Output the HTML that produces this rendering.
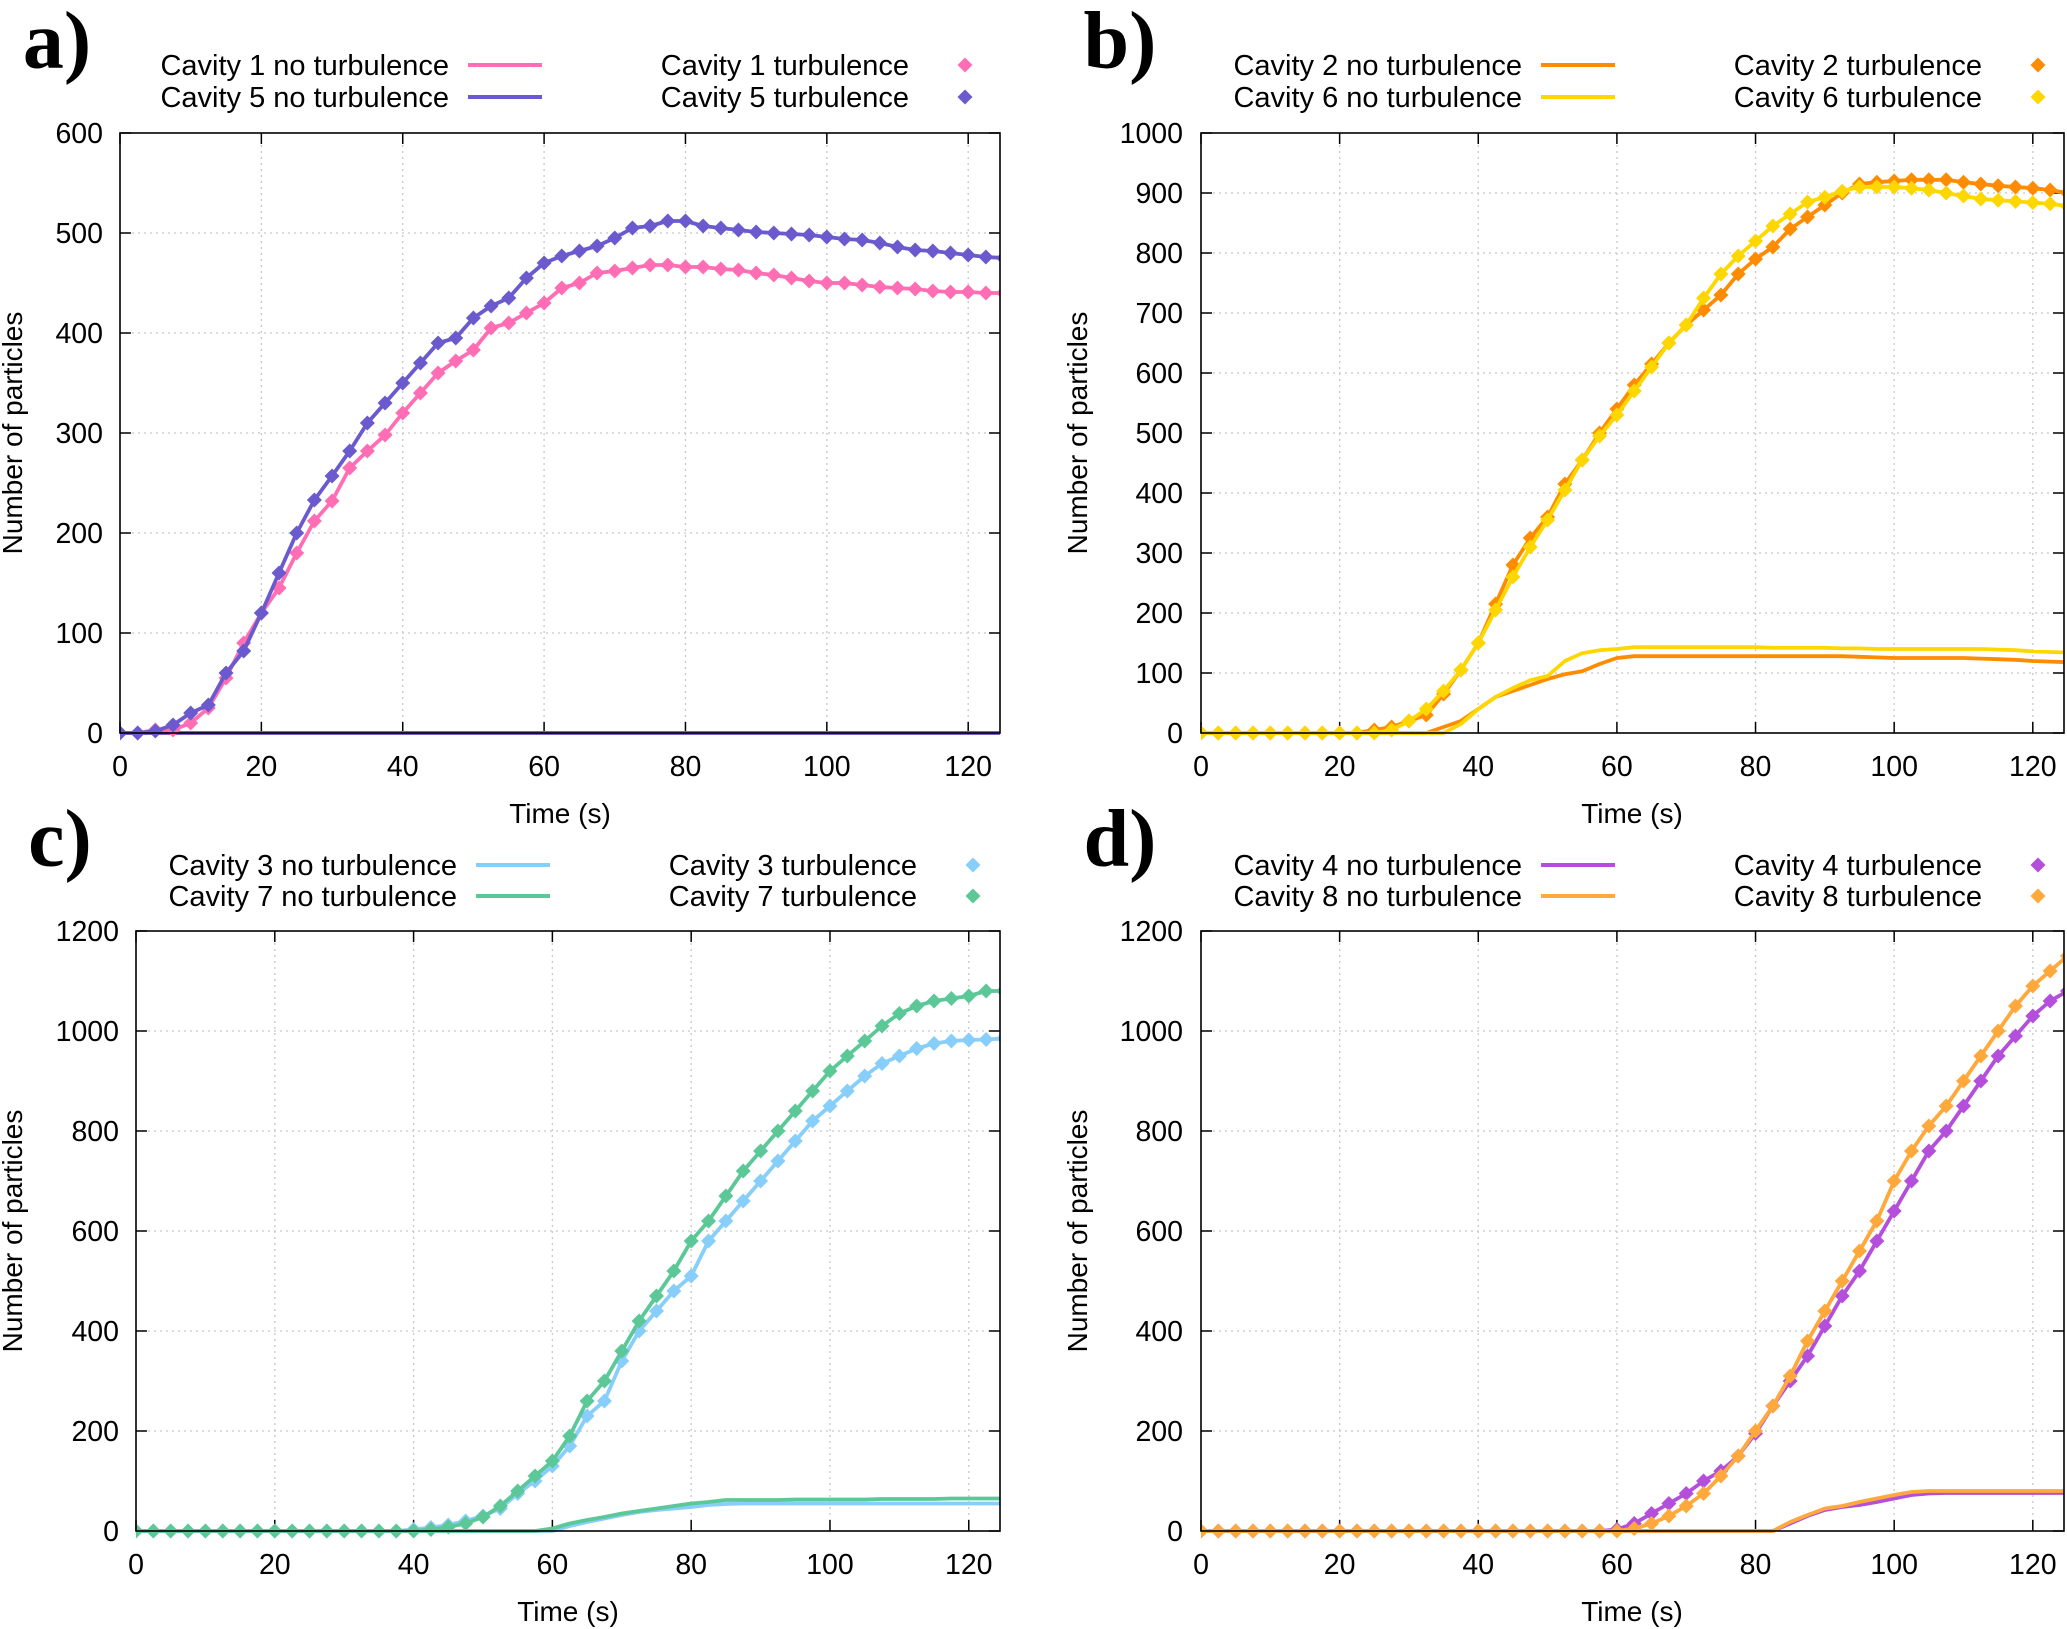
<!DOCTYPE html>
<html><head><meta charset="utf-8">
<style>
html,body{margin:0;padding:0;background:#fff;}
svg{display:block;}
text{font-family:"Liberation Sans",sans-serif;fill:#000;}
.lbl{font-family:"Liberation Serif",serif;font-weight:bold;}
</style></head>
<body>
<svg id="fig" width="2067" height="1629" viewBox="0 0 2067 1629" xmlns="http://www.w3.org/2000/svg"></svg>
<script>
// shared time axis (s), sample every 2.5 s
const times = [0,2.5,5,7.5,10,12.5,15,17.5,20,22.5,25,27.5,30,32.5,35,37.5,40,42.5,45,47.5,50,52.5,55,57.5,60,62.5,65,67.5,70,72.5,75,77.5,80,82.5,85,87.5,90,92.5,95,97.5,100,102.5,105,107.5,110,112.5,115,117.5,120,122.5,125];
const xTicks = [0,20,40,60,80,100,120];

// panel a
const aTicksY = [0,100,200,300,400,500,600];
const cav1Turb = [0,0,3,3,10,25,55,90,120,145,180,212,232,265,282,298,320,340,360,372,383,405,410,420,430,445,450,460,462,465,468,468,466,466,464,463,460,458,455,452,450,450,448,446,445,444,442,441,441,440,440];
const cav5Turb = [0,0,2,8,20,28,60,82,120,160,200,233,257,282,310,330,350,370,390,395,415,427,435,455,470,477,482,487,495,505,507,512,512,507,505,503,501,500,499,498,496,494,493,490,486,483,482,480,478,476,475];
const cav1NoTurb = [0,0,0,0,0,0,0,0,0,0,0,0,0,0,0,0,0,0,0,0,0,0,0,0,0,0,0,0,0,0,0,0,0,0,0,0,0,0,0,0,0,0,0,0,0,0,0,0,0,0,0];
const cav5NoTurb = [0,0,0,0,0,0,0,0,0,0,0,0,0,0,0,0,0,0,0,0,0,0,0,0,0,0,0,0,0,0,0,0,0,0,0,0,0,0,0,0,0,0,0,0,0,0,0,0,0,0,0];

// panel b
const bTicksY = [0,100,200,300,400,500,600,700,800,900,1000];
const cav2Turb = [0,0,0,0,0,0,0,0,0,0,5,10,20,30,65,105,150,215,280,325,360,415,455,500,540,580,615,650,680,705,730,765,790,810,840,860,880,900,915,918,920,922,922,922,918,915,912,910,908,905,900];
const cav6Turb = [0,0,0,0,0,0,0,0,0,0,0,5,20,40,70,105,150,205,260,310,355,405,455,495,530,570,610,650,680,725,765,795,820,845,865,885,893,903,910,910,910,908,905,900,895,890,888,886,884,882,878];
const cav2NoTurb = [0,0,0,0,0,0,0,0,0,0,0,0,0,0,10,20,40,60,70,80,90,98,103,115,125,128,128,128,128,128,128,128,128,128,128,128,128,128,127,126,125,125,125,125,125,124,123,122,120,119,118];
const cav6NoTurb = [0,0,0,0,0,0,0,0,0,0,0,0,0,0,0,15,40,60,75,88,95,120,133,138,140,143,143,143,143,143,143,143,143,142,142,142,142,141,141,140,140,140,140,140,140,140,139,138,136,135,134];

// panel c
const cTicksY = [0,200,400,600,800,1000,1200];
const cav3Turb = [0,0,0,0,0,0,0,0,0,0,0,0,0,0,0,0,3,7,12,20,30,45,75,100,130,170,230,260,340,400,440,480,510,580,620,660,700,740,780,820,850,880,910,935,950,965,975,980,982,983,985];
const cav7Turb = [0,0,0,0,0,0,0,0,0,0,0,0,0,0,0,0,0,3,8,15,28,50,80,110,140,190,260,300,360,420,470,520,580,620,670,720,760,800,840,880,920,950,980,1010,1035,1050,1060,1065,1070,1080,1080];
const cav3NoTurb = [0,0,0,0,0,0,0,0,0,0,0,0,0,0,0,0,0,0,0,0,0,0,0,0,0,10,18,25,32,38,42,45,48,52,54,55,55,55,55,55,55,55,55,55,55,55,55,55,55,55,55];
const cav7NoTurb = [0,0,0,0,0,0,0,0,0,0,0,0,0,0,0,0,0,0,0,0,0,0,0,0,5,15,22,28,35,40,45,50,55,58,62,62,62,62,63,63,63,63,63,64,64,64,64,65,65,65,65];

// panel d
const dTicksY = [0,200,400,600,800,1000,1200];
const cav4Turb = [0,0,0,0,0,0,0,0,0,0,0,0,0,0,0,0,0,0,0,0,0,0,0,0,3,15,35,55,75,100,120,150,195,250,300,350,410,470,520,580,640,700,760,800,850,900,950,990,1030,1060,1080];
const cav8Turb = [0,0,0,0,0,0,0,0,0,0,0,0,0,0,0,0,0,0,0,0,0,0,0,0,0,5,15,30,50,75,110,150,200,250,310,380,440,500,560,620,700,760,810,850,900,950,1000,1050,1090,1120,1150];
const cav4NoTurb = [0,0,0,0,0,0,0,0,0,0,0,0,0,0,0,0,0,0,0,0,0,0,0,0,0,0,0,0,0,0,0,0,0,0,15,30,42,48,52,58,65,72,75,76,76,76,76,76,76,76,76];
const cav8NoTurb = [0,0,0,0,0,0,0,0,0,0,0,0,0,0,0,0,0,0,0,0,0,0,0,0,0,0,0,0,0,0,0,0,0,0,18,32,45,50,58,65,72,78,80,80,80,80,80,80,80,80,80];

const NS = "http://www.w3.org/2000/svg";
const svg = document.getElementById('fig');
function mk(tag, attrs, parent){
  const e = document.createElementNS(NS, tag);
  for (const k in attrs) e.setAttribute(k, attrs[k]);
  (parent||svg).appendChild(e);
  return e;
}
function txt(s, attrs, parent){ const e = mk('text', attrs, parent); e.textContent = s; return e; }

const panels = [
  {id:'a', letter:'a)', L:120, R:1000, T:133, B:733, ymax:600, yt:aTicksY, ytx:103, lx:57, ly:40,
   legTextX:449, legLine:[468,542], leg2X:909, legMark:965, legY:[65,97], xtitleX:560,
   series:[
     {name:'Cavity 1 no turbulence', v:cav1NoTurb, c:'#ff6eb4', marks:false},
     {name:'Cavity 5 no turbulence', v:cav5NoTurb, c:'#6a5acd', marks:false},
     {name:'Cavity 1 turbulence', v:cav1Turb, c:'#ff6eb4', marks:true},
     {name:'Cavity 5 turbulence', v:cav5Turb, c:'#6a5acd', marks:true}]},
  {id:'b', letter:'b)', L:1201, R:2064, T:133, B:733, ymax:1000, yt:bTicksY, ytx:1183, lx:1120, ly:40,
   legTextX:1522, legLine:[1541,1615], leg2X:1982, legMark:2038, legY:[65,97], xtitleX:1632,
   series:[
     {name:'Cavity 2 no turbulence', v:cav2NoTurb, c:'#ff8c00', marks:false},
     {name:'Cavity 6 no turbulence', v:cav6NoTurb, c:'#ffd700', marks:false},
     {name:'Cavity 2 turbulence', v:cav2Turb, c:'#ff8c00', marks:true},
     {name:'Cavity 6 turbulence', v:cav6Turb, c:'#ffd700', marks:true}]},
  {id:'c', letter:'c)', L:136, R:1000, T:931, B:1531, ymax:1200, yt:cTicksY, ytx:119, lx:60, ly:838,
   legTextX:457, legLine:[476,550], leg2X:917, legMark:973, legY:[865,896], xtitleX:568,
   series:[
     {name:'Cavity 3 no turbulence', v:cav3NoTurb, c:'#87cefa', marks:false},
     {name:'Cavity 7 no turbulence', v:cav7NoTurb, c:'#5cc898', marks:false},
     {name:'Cavity 3 turbulence', v:cav3Turb, c:'#87cefa', marks:true},
     {name:'Cavity 7 turbulence', v:cav7Turb, c:'#5cc898', marks:true}]},
  {id:'d', letter:'d)', L:1201, R:2064, T:931, B:1531, ymax:1200, yt:dTicksY, ytx:1183, lx:1120, ly:838,
   legTextX:1522, legLine:[1541,1615], leg2X:1982, legMark:2038, legY:[865,896], xtitleX:1632,
   series:[
     {name:'Cavity 4 no turbulence', v:cav4NoTurb, c:'#b44fdc', marks:false},
     {name:'Cavity 8 no turbulence', v:cav8NoTurb, c:'#ffa83c', marks:false},
     {name:'Cavity 4 turbulence', v:cav4Turb, c:'#b44fdc', marks:true},
     {name:'Cavity 8 turbulence', v:cav8Turb, c:'#ffa83c', marks:true}]}
];
const XMAX = 124.5;

function diamond(g, x, y, c){
  const s = 7.5;
  const p = mk('polygon', {points:`${x},${y-s} ${x+s},${y} ${x},${y+s} ${x-s},${y}`, fill:c}, g);
  
  
}

panels.forEach(P => {
  const g = mk('g', {});
  
  
  const xs = t => P.L + (t / XMAX) * (P.R - P.L);
  const ys = v => P.B - (v / P.ymax) * (P.B - P.T);

  const lt = txt(P.letter, {x:P.lx, y:P.ly, class:'lbl', 'font-size':82, 'text-anchor':'middle', 'dominant-baseline':'central'}, g);
  
  

  const grid = mk('g', {stroke:'#c8c8c8', 'stroke-width':1.3, 'stroke-dasharray':'2,4'}, g);
  
  
  xTicks.forEach(t => { if (t > 0) mk('line', {x1:xs(t), x2:xs(t), y1:P.T, y2:P.B}, grid); });
  P.yt.forEach(v => { if (v > 0 && v < P.ymax) mk('line', {x1:P.L, x2:P.R, y1:ys(v), y2:ys(v)}, grid); });

  const tk = mk('g', {stroke:'#000', 'stroke-width':1.5}, g);
  
  
  xTicks.forEach(t => {
    mk('line', {x1:xs(t), x2:xs(t), y1:P.B, y2:P.B-11}, tk);
    mk('line', {x1:xs(t), x2:xs(t), y1:P.T, y2:P.T+11}, tk);
    const l = txt(String(t), {x:xs(t), y:P.B+43, 'font-size':28.5, 'text-anchor':'middle'}, g);
    
    
  });
  P.yt.forEach(v => {
    mk('line', {x1:P.L, x2:P.L+11, y1:ys(v), y2:ys(v)}, tk);
    mk('line', {x1:P.R, x2:P.R-11, y1:ys(v), y2:ys(v)}, tk);
    const l = txt(String(v), {x:P.ytx, y:ys(v)+10, 'font-size':28.5, 'text-anchor':'end'}, g);
    
    
  });

  const cid = 'clip' + P.id;
  const cp = mk('clipPath', {id:cid}, g);
  mk('rect', {x:P.L, y:P.T-8, width:P.R-P.L, height:P.B-P.T+16}, cp);
  const plot = mk('g', {'clip-path':`url(#${cid})`}, g);
  
  

  P.series.forEach(S => {
    const d = S.v.map((v,i) => (i ? 'L' : 'M') + xs(times[i]).toFixed(1) + ' ' + ys(v).toFixed(1)).join(' ');
    const path = mk('path', {d, fill:'none', stroke:S.c, 'stroke-width':3.8, 'stroke-linejoin':'round'}, plot);
    
    
    if (S.marks) S.v.forEach((v,i) => diamond(plot, xs(times[i]), ys(v), S.c));
  });

  const fr = mk('rect', {x:P.L, y:P.T, width:P.R-P.L, height:P.B-P.T, fill:'none', stroke:'#000', 'stroke-width':1.6}, g);
  
  

  const xt = txt('Time (s)', {x:P.xtitleX, y:P.B+90, 'font-size':28, 'text-anchor':'middle'}, g);
  
  
  const yx = P.id === 'a' || P.id === 'c' ? 22 : 1087;
  const yt = txt('Number of particles', {x:yx, y:(P.T+P.B)/2, 'font-size':28, 'text-anchor':'middle', transform:`rotate(-90 ${yx} ${(P.T+P.B)/2})`}, g);
  
  

  const lg = mk('g', {}, g);
  
  
  [0,1].forEach(r => {
    const S = P.series[r], y = P.legY[r];
    const t1 = txt(S.name, {x:P.legTextX, y:y+10, 'font-size':29, 'text-anchor':'end'}, lg);
    
    
    mk('line', {x1:P.legLine[0], x2:P.legLine[1], y1:y, y2:y, stroke:S.c, 'stroke-width':4}, lg);
    const S2 = P.series[r+2];
    const t2 = txt(S2.name, {x:P.leg2X, y:y+10, 'font-size':29, 'text-anchor':'end'}, lg);
    
    
    diamond(lg, P.legMark, y, S2.c);
  });
});
</script>
</body></html>
